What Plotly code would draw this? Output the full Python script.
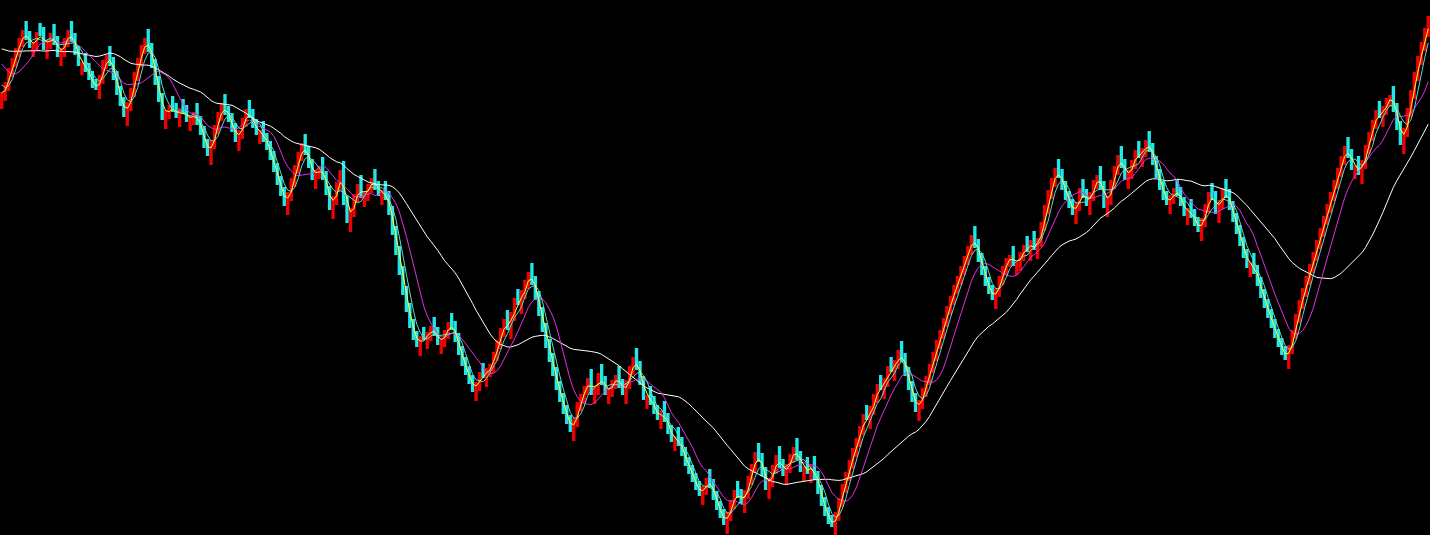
import plotly.graph_objects as go
import pandas as pd

# ---- data (price per bar) ----
closes = [
    50.8, 51.8, 53.2, 54.2, 55.2, 56.2, 57.0, 56.0, 55.2, 55.8,
    56.8, 56.4, 55.0, 56.0, 56.7, 55.5, 54.3, 55.2, 56.2, 57.0,
    55.8, 54.5, 53.4, 53.8, 52.8, 52.0, 51.2, 51.0, 52.5, 54.0,
    54.5, 53.4, 52.0, 50.5, 49.4, 48.3, 49.8, 51.2, 52.8, 54.2,
    55.5, 56.2, 54.8, 53.2, 51.5, 49.8, 48.0, 49.0, 49.5, 48.8,
    48.2, 49.2, 48.6, 47.8, 48.4, 48.8, 47.5, 46.5, 45.2, 44.4,
    46.0, 47.5, 48.8, 49.7, 48.5, 47.8, 46.8, 45.8, 47.0, 48.2,
    49.1, 48.2, 47.2, 46.5, 47.0, 45.8, 45.0, 44.0, 42.8, 41.5,
    40.4, 39.4, 40.8, 42.2, 43.5, 44.8, 45.7, 44.5, 43.2, 42.0,
    43.0, 43.4, 42.0, 40.5, 39.0, 40.4, 41.8, 43.0, 39.5, 37.7,
    39.2, 40.6, 41.6, 40.2, 40.8, 41.6, 42.2, 41.0, 40.4, 41.0,
    40.0, 38.5, 36.5, 34.5, 32.5, 30.5, 28.8, 27.2, 26.0, 25.3,
    26.4, 26.0, 26.8, 27.4, 26.4, 25.5, 26.2, 27.0, 27.8, 27.0,
    25.8, 24.5, 23.4, 22.5, 21.6, 20.8, 21.8, 22.8, 22.2, 23.2,
    23.6, 24.8, 26.0, 27.2, 28.1, 27.0, 28.8, 30.2, 29.5, 31.0,
    32.0, 32.8, 31.5, 30.0, 28.4, 26.8, 25.2, 23.8, 22.4, 21.0,
    19.8, 18.6, 17.6, 16.8, 18.2, 19.8, 20.6, 21.4, 22.2, 20.5,
    21.4, 22.7, 21.5, 20.5, 21.2, 22.0, 22.5, 21.2, 20.5, 22.0,
    23.4, 24.3, 23.0, 21.5, 20.0, 20.5, 19.5, 18.6, 18.0, 19.0,
    17.8, 16.6, 15.8, 16.4, 15.4, 14.4, 13.4, 12.6, 11.8, 11.0,
    10.4, 11.4, 12.2, 11.2, 10.0, 9.0, 8.2, 7.5, 8.8, 10.0,
    11.0, 10.2, 9.6, 11.0, 12.4, 13.6, 14.8, 13.8, 12.4, 11.0,
    12.2, 13.5, 14.5, 13.2, 12.4, 13.6, 14.6, 15.3, 14.0, 12.8,
    13.4, 12.6, 13.5, 12.0, 10.6, 9.4, 8.4, 7.6, 7.3, 8.8,
    10.2, 11.6, 12.8, 14.0, 15.2, 16.2, 17.4, 18.6, 18.0, 19.4,
    20.6, 21.6, 21.0, 22.2, 23.4, 22.8, 24.0, 25.0, 23.8, 22.4,
    21.0, 19.8, 18.8, 20.0, 21.2, 22.4, 23.6, 24.8, 26.0, 27.0,
    28.2, 29.4, 30.4, 31.5, 32.4, 33.4, 34.4, 35.4, 36.5, 35.2,
    33.8, 32.5, 31.4, 30.6, 30.0, 31.2, 32.4, 33.4, 34.2, 34.5,
    33.4, 33.8, 34.8, 35.5, 34.8, 36.0, 35.0, 36.2, 37.8, 39.5,
    41.0, 42.2, 43.2, 42.2, 41.0, 40.0, 39.2, 38.5, 39.8, 41.2,
    40.2, 39.4, 40.8, 42.0, 42.5, 41.0, 39.2, 40.4, 42.0, 43.4,
    44.5, 43.2, 42.0, 43.0, 44.0, 45.0, 44.2, 45.2, 46.0, 44.8,
    43.5, 42.2, 41.0, 40.0, 39.5, 40.5, 41.2, 40.4, 39.4, 38.4,
    39.2, 38.2, 37.4, 36.8, 38.2, 39.6, 40.8, 40.0, 38.6, 40.0,
    41.2, 40.2, 39.0, 37.8, 36.6, 35.4, 34.2, 33.2, 33.8, 32.6,
    31.4, 30.2, 29.2, 28.2, 27.2, 26.2, 25.3, 24.5, 24.0, 25.5,
    27.0, 28.6, 30.0, 31.2, 32.4, 33.6, 34.8, 36.0, 37.2, 38.4,
    39.6, 40.8, 42.0, 43.2, 44.4, 45.4, 44.2, 43.0, 43.5, 42.5,
    44.0, 45.5, 46.8, 48.0, 49.0, 48.2, 49.4, 50.2, 50.5, 48.8,
    47.0, 45.5, 47.2, 49.2, 51.0, 52.8, 54.4, 55.8, 57.2, 58.4,
]

opens = [
    49.1, 49.9, 50.9, 52.3, 53.3, 54.3, 55.3, 57.9, 56.9, 54.3,
    54.9, 57.7, 57.3, 54.1, 55.1, 57.6, 56.4, 53.4, 54.3, 55.3,
    57.9, 56.7, 55.4, 52.5, 54.7, 53.7, 52.9, 52.1, 50.1, 51.6,
    53.1, 55.4, 54.3, 52.9, 51.4, 50.3, 47.4, 48.9, 50.3, 51.9,
    53.3, 54.6, 57.1, 55.7, 54.1, 52.4, 50.7, 47.1, 48.1, 50.4,
    49.7, 47.3, 50.1, 49.5, 46.9, 47.5, 49.7, 48.4, 47.4, 46.1,
    43.5, 45.1, 46.6, 47.9, 50.6, 49.4, 48.7, 47.7, 44.9, 46.1,
    47.3, 50.0, 49.1, 48.1, 45.6, 47.9, 46.7, 45.9, 44.9, 43.7,
    42.4, 41.3, 38.5, 39.9, 41.3, 42.6, 43.9, 46.6, 45.4, 44.1,
    41.1, 42.1, 44.3, 42.9, 41.4, 38.1, 39.5, 40.9, 43.9, 40.4,
    36.8, 38.3, 39.7, 42.5, 39.3, 39.9, 40.7, 43.1, 41.9, 39.5,
    41.9, 40.9, 39.4, 37.4, 35.4, 33.4, 31.4, 29.7, 28.1, 26.9,
    24.4, 27.3, 25.1, 25.9, 28.3, 27.3, 24.6, 25.3, 26.1, 28.7,
    27.9, 26.7, 25.4, 24.3, 23.4, 22.5, 19.9, 20.9, 23.7, 21.3,
    22.3, 22.7, 23.9, 25.1, 26.3, 29.0, 26.1, 27.9, 31.1, 28.6,
    30.1, 31.1, 33.7, 32.4, 30.9, 29.3, 27.7, 26.1, 24.7, 23.3,
    21.9, 20.7, 19.5, 18.5, 15.9, 17.3, 18.9, 19.7, 20.5, 23.1,
    19.6, 20.5, 23.6, 22.4, 19.6, 20.3, 21.1, 23.4, 22.1, 19.6,
    21.1, 22.5, 25.2, 23.9, 22.4, 19.1, 21.4, 20.4, 19.5, 17.1,
    19.9, 18.7, 17.5, 14.9, 17.3, 16.3, 15.3, 14.3, 13.5, 12.7,
    11.9, 9.5, 10.5, 13.1, 12.1, 10.9, 9.9, 9.1, 6.6, 7.9,
    9.1, 11.9, 11.1, 8.7, 10.1, 11.5, 12.7, 15.7, 14.7, 13.3,
    10.1, 11.3, 12.6, 15.4, 14.1, 11.5, 12.7, 13.7, 16.2, 14.9,
    11.9, 14.3, 11.7, 14.4, 12.9, 11.5, 10.3, 9.3, 8.5, 6.4,
    7.9, 9.3, 10.7, 11.9, 13.1, 14.3, 15.3, 16.5, 19.5, 17.1,
    18.5, 19.7, 22.5, 20.1, 21.3, 24.3, 21.9, 23.1, 25.9, 24.7,
    23.3, 21.9, 20.7, 17.9, 19.1, 20.3, 21.5, 22.7, 23.9, 25.1,
    26.1, 27.3, 28.5, 29.5, 30.6, 31.5, 32.5, 33.5, 34.5, 37.4,
    36.1, 34.7, 33.4, 32.3, 31.5, 29.1, 30.3, 31.5, 32.5, 33.3,
    35.4, 32.5, 32.9, 33.9, 36.4, 33.9, 36.9, 34.1, 35.3, 36.9,
    38.6, 40.1, 41.3, 44.1, 43.1, 41.9, 40.9, 40.1, 37.6, 38.9,
    42.1, 41.1, 38.5, 39.9, 41.1, 43.4, 41.9, 38.3, 39.5, 41.1,
    42.5, 45.4, 44.1, 41.1, 42.1, 43.1, 45.9, 43.3, 44.3, 46.9,
    45.7, 44.4, 43.1, 41.9, 40.9, 38.6, 39.6, 42.1, 41.3, 40.3,
    37.5, 40.1, 39.1, 38.3, 35.9, 37.3, 38.7, 41.7, 40.9, 37.7,
    39.1, 42.1, 41.1, 39.9, 38.7, 37.5, 36.3, 35.1, 32.3, 34.7,
    33.5, 32.3, 31.1, 30.1, 29.1, 28.1, 27.1, 26.2, 25.4, 23.1,
    24.6, 26.1, 27.7, 29.1, 30.3, 31.5, 32.7, 33.9, 35.1, 36.3,
    37.5, 38.7, 39.9, 41.1, 42.3, 43.5, 46.3, 45.1, 42.1, 44.4,
    41.6, 43.1, 44.6, 45.9, 47.1, 49.9, 47.3, 48.5, 49.3, 51.4,
    49.7, 47.9, 44.6, 46.3, 48.3, 50.1, 51.9, 53.5, 54.9, 56.3,
]

# closes before the visible window (only feed the moving averages)
prior_closes = [
    55.6, 56.0, 55.4, 55.0, 55.8, 56.4, 56.0, 55.2, 54.8, 55.6,
    56.2, 56.8, 56.4, 55.6, 55.0, 55.4, 56.0, 56.6, 57.0, 56.4,
    55.8, 56.2, 56.8, 56.0, 55.2, 54.2, 53.2, 52.2, 51.2, 50.2,
]

ma_periods = [30, 10, 5, 3]

# ---- styles ----
UP = "#F00000"
DOWN = "#20E8E8"
MA_COLORS = {30: "#FFFFFF", 10: "#E030E0", 5: "#60D8D8", 3: "#FFFF40"}

assert len(closes) == len(opens)
n = len(closes)
idx = list(range(n))
bottoms = [min(o, c) for o, c in zip(opens, closes)]
spans = [abs(c - o) for o, c in zip(opens, closes)]
colors = [UP if c >= o else DOWN for o, c in zip(opens, closes)]

fig = go.Figure()
# candle bodies (open -> close), red for up, cyan for down
fig.add_trace(go.Bar(
    x=idx, y=spans, base=bottoms,
    marker=dict(color=colors, line=dict(width=0)),
    hoverinfo="skip",
))

full = pd.Series(prior_closes + closes, dtype=float)
for p in ma_periods:
    ma = full.rolling(p, min_periods=1).mean().iloc[len(prior_closes):].to_numpy()
    fig.add_trace(go.Scatter(
        x=idx, y=ma, mode="lines",
        line=dict(color=MA_COLORS[p], width=1), hoverinfo="skip",
    ))

fig.update_layout(
    width=1430, height=535,
    margin=dict(l=0, r=0, t=0, b=0),
    paper_bgcolor="#000000", plot_bgcolor="#000000",
    showlegend=False,
    bargap=0.04,
    xaxis=dict(visible=False, range=[-0.5, n - 0.5], fixedrange=True),
    yaxis=dict(visible=False, range=[6.5, 60], fixedrange=True),
)

fig.write_html(
    "out.html",
    config={"displayModeBar": False},
    post_script="document.body.style.margin='0';document.body.style.background='#000';",
)
